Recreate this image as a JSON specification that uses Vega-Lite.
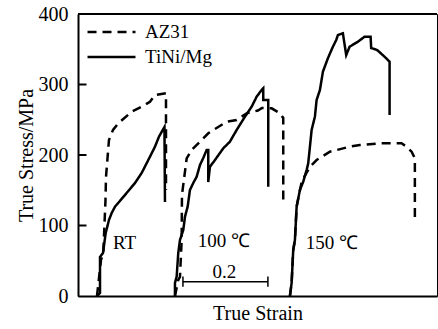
{
  "$schema": "https://vega.github.io/schema/vega-lite/v6.json",
  "width": 359,
  "height": 282,
  "autosize": {"type": "none"},
  "padding": {"left": 78, "top": 14, "right": 1, "bottom": 33},
  "background": "white",
  "config": {
    "view": {"stroke": "black", "strokeWidth": 1},
    "font": "Liberation Serif",
    "axis": {"labelFont": "Liberation Serif", "titleFont": "Liberation Serif", "labelColor": "black", "titleColor": "black", "domainColor": "black", "tickColor": "black", "titleFontWeight": "normal", "grid": false},
    "legend": {"labelFont": "Liberation Serif", "labelColor": "black"},
    "text": {"font": "Liberation Serif"}
  },
  "layer": [
    {
      "data": {"values": [
        {"temp": "RT", "series": "TiNi/Mg", "i": 0, "strain": 0.0447, "stress": 0},
        {"temp": "RT", "series": "TiNi/Mg", "i": 1, "strain": 0.0518, "stress": 4.3},
        {"temp": "RT", "series": "TiNi/Mg", "i": 2, "strain": 0.0518, "stress": 55.3},
        {"temp": "RT", "series": "TiNi/Mg", "i": 3, "strain": 0.0588, "stress": 61},
        {"temp": "RT", "series": "TiNi/Mg", "i": 4, "strain": 0.0652, "stress": 89.4},
        {"temp": "RT", "series": "TiNi/Mg", "i": 5, "strain": 0.0729, "stress": 107.8},
        {"temp": "RT", "series": "TiNi/Mg", "i": 6, "strain": 0.0793, "stress": 117.7},
        {"temp": "RT", "series": "TiNi/Mg", "i": 7, "strain": 0.0871, "stress": 126.7},
        {"temp": "RT", "series": "TiNi/Mg", "i": 8, "strain": 0.1106, "stress": 143.3},
        {"temp": "RT", "series": "TiNi/Mg", "i": 9, "strain": 0.1341, "stress": 160.3},
        {"temp": "RT", "series": "TiNi/Mg", "i": 10, "strain": 0.1499, "stress": 174.5},
        {"temp": "RT", "series": "TiNi/Mg", "i": 11, "strain": 0.1694, "stress": 197.6},
        {"temp": "RT", "series": "TiNi/Mg", "i": 12, "strain": 0.1812, "stress": 211.8},
        {"temp": "RT", "series": "TiNi/Mg", "i": 13, "strain": 0.1906, "stress": 226},
        {"temp": "RT", "series": "TiNi/Mg", "i": 14, "strain": 0.2035, "stress": 239.7},
        {"temp": "RT", "series": "TiNi/Mg", "i": 15, "strain": 0.2047, "stress": 133.3},

        {"temp": "RT", "series": "AZ31", "i": 0, "strain": 0.0447, "stress": 0},
        {"temp": "RT", "series": "AZ31", "i": 1, "strain": 0.0541, "stress": 51},
        {"temp": "RT", "series": "AZ31", "i": 2, "strain": 0.0595, "stress": 61},
        {"temp": "RT", "series": "AZ31", "i": 3, "strain": 0.0647, "stress": 136},
        {"temp": "RT", "series": "AZ31", "i": 4, "strain": 0.0659, "stress": 168.8},
        {"temp": "RT", "series": "AZ31", "i": 5, "strain": 0.0729, "stress": 221.3},
        {"temp": "RT", "series": "AZ31", "i": 6, "strain": 0.0824, "stress": 235.5},
        {"temp": "RT", "series": "AZ31", "i": 7, "strain": 0.0948, "stress": 245},
        {"temp": "RT", "series": "AZ31", "i": 8, "strain": 0.1264, "stress": 261.4},
        {"temp": "RT", "series": "AZ31", "i": 9, "strain": 0.1499, "stress": 268.5},
        {"temp": "RT", "series": "AZ31", "i": 10, "strain": 0.1694, "stress": 275.6},
        {"temp": "RT", "series": "AZ31", "i": 11, "strain": 0.1812, "stress": 285.1},
        {"temp": "RT", "series": "AZ31", "i": 12, "strain": 0.2071, "stress": 287.5},
        {"temp": "RT", "series": "AZ31", "i": 13, "strain": 0.2071, "stress": 150.4},

        {"temp": "100", "series": "TiNi/Mg", "i": 0, "strain": 0.2282, "stress": 0},
        {"temp": "100", "series": "TiNi/Mg", "i": 1, "strain": 0.2282, "stress": 18.4},
        {"temp": "100", "series": "TiNi/Mg", "i": 2, "strain": 0.2322, "stress": 27.4},
        {"temp": "100", "series": "TiNi/Mg", "i": 3, "strain": 0.236, "stress": 61},
        {"temp": "100", "series": "TiNi/Mg", "i": 4, "strain": 0.24, "stress": 79.4},
        {"temp": "100", "series": "TiNi/Mg", "i": 5, "strain": 0.2478, "stress": 93.6},
        {"temp": "100", "series": "TiNi/Mg", "i": 6, "strain": 0.2518, "stress": 112.5},
        {"temp": "100", "series": "TiNi/Mg", "i": 7, "strain": 0.2581, "stress": 126.7},
        {"temp": "100", "series": "TiNi/Mg", "i": 8, "strain": 0.2635, "stress": 150.4},
        {"temp": "100", "series": "TiNi/Mg", "i": 9, "strain": 0.2713, "stress": 160.3},
        {"temp": "100", "series": "TiNi/Mg", "i": 10, "strain": 0.2793, "stress": 169.2},
        {"temp": "100", "series": "TiNi/Mg", "i": 11, "strain": 0.2871, "stress": 185.8},
        {"temp": "100", "series": "TiNi/Mg", "i": 12, "strain": 0.2948, "stress": 195.7},
        {"temp": "100", "series": "TiNi/Mg", "i": 13, "strain": 0.3028, "stress": 207.1},
        {"temp": "100", "series": "TiNi/Mg", "i": 14, "strain": 0.3066, "stress": 207.1},
        {"temp": "100", "series": "TiNi/Mg", "i": 15, "strain": 0.3066, "stress": 161.7},
        {"temp": "100", "series": "TiNi/Mg", "i": 16, "strain": 0.3106, "stress": 183.4},
        {"temp": "100", "series": "TiNi/Mg", "i": 17, "strain": 0.3224, "stress": 192.9},
        {"temp": "100", "series": "TiNi/Mg", "i": 18, "strain": 0.3419, "stress": 209.5},
        {"temp": "100", "series": "TiNi/Mg", "i": 19, "strain": 0.3576, "stress": 218.9},
        {"temp": "100", "series": "TiNi/Mg", "i": 20, "strain": 0.3734, "stress": 235.5},
        {"temp": "100", "series": "TiNi/Mg", "i": 21, "strain": 0.3929, "stress": 254.3},
        {"temp": "100", "series": "TiNi/Mg", "i": 22, "strain": 0.4087, "stress": 268.5},
        {"temp": "100", "series": "TiNi/Mg", "i": 23, "strain": 0.4205, "stress": 282.7},
        {"temp": "100", "series": "TiNi/Mg", "i": 24, "strain": 0.4322, "stress": 292.2},
        {"temp": "100", "series": "TiNi/Mg", "i": 25, "strain": 0.436, "stress": 294.6},
        {"temp": "100", "series": "TiNi/Mg", "i": 26, "strain": 0.436, "stress": 278},
        {"temp": "100", "series": "TiNi/Mg", "i": 27, "strain": 0.4478, "stress": 278},
        {"temp": "100", "series": "TiNi/Mg", "i": 28, "strain": 0.4478, "stress": 155},

        {"temp": "100", "series": "AZ31", "i": 0, "strain": 0.2282, "stress": 0},
        {"temp": "100", "series": "AZ31", "i": 1, "strain": 0.236, "stress": 22.7},
        {"temp": "100", "series": "AZ31", "i": 2, "strain": 0.24, "stress": 27},
        {"temp": "100", "series": "AZ31", "i": 3, "strain": 0.244, "stress": 79.4},
        {"temp": "100", "series": "AZ31", "i": 4, "strain": 0.2447, "stress": 143.3},
        {"temp": "100", "series": "AZ31", "i": 5, "strain": 0.2558, "stress": 195.3},
        {"temp": "100", "series": "AZ31", "i": 6, "strain": 0.2675, "stress": 207.1},
        {"temp": "100", "series": "AZ31", "i": 7, "strain": 0.3066, "stress": 230.8},
        {"temp": "100", "series": "AZ31", "i": 8, "strain": 0.3499, "stress": 247.2},
        {"temp": "100", "series": "AZ31", "i": 9, "strain": 0.3734, "stress": 249.6},
        {"temp": "100", "series": "AZ31", "i": 10, "strain": 0.3969, "stress": 259.1},
        {"temp": "100", "series": "AZ31", "i": 11, "strain": 0.4235, "stress": 263.1},
        {"temp": "100", "series": "AZ31", "i": 12, "strain": 0.433, "stress": 266.7},
        {"temp": "100", "series": "AZ31", "i": 13, "strain": 0.4558, "stress": 266.2},
        {"temp": "100", "series": "AZ31", "i": 14, "strain": 0.4753, "stress": 259.1},
        {"temp": "100", "series": "AZ31", "i": 15, "strain": 0.4831, "stress": 252.5},
        {"temp": "100", "series": "AZ31", "i": 16, "strain": 0.4831, "stress": 133.8},

        {"temp": "150", "series": "TiNi/Mg", "i": 0, "strain": 0.4988, "stress": 0},
        {"temp": "150", "series": "TiNi/Mg", "i": 1, "strain": 0.5028, "stress": 18.4},
        {"temp": "150", "series": "TiNi/Mg", "i": 2, "strain": 0.5066, "stress": 65.2},
        {"temp": "150", "series": "TiNi/Mg", "i": 3, "strain": 0.5106, "stress": 79.4},
        {"temp": "150", "series": "TiNi/Mg", "i": 4, "strain": 0.5146, "stress": 126.7},
        {"temp": "150", "series": "TiNi/Mg", "i": 5, "strain": 0.5224, "stress": 150.4},
        {"temp": "150", "series": "TiNi/Mg", "i": 6, "strain": 0.5301, "stress": 162.1},
        {"temp": "150", "series": "TiNi/Mg", "i": 7, "strain": 0.5381, "stress": 178.7},
        {"temp": "150", "series": "TiNi/Mg", "i": 8, "strain": 0.5419, "stress": 188.2},
        {"temp": "150", "series": "TiNi/Mg", "i": 9, "strain": 0.5459, "stress": 211.8},
        {"temp": "150", "series": "TiNi/Mg", "i": 10, "strain": 0.5499, "stress": 235.5},
        {"temp": "150", "series": "TiNi/Mg", "i": 11, "strain": 0.5576, "stress": 254.3},
        {"temp": "150", "series": "TiNi/Mg", "i": 12, "strain": 0.5616, "stress": 278},
        {"temp": "150", "series": "TiNi/Mg", "i": 13, "strain": 0.5694, "stress": 292.2},
        {"temp": "150", "series": "TiNi/Mg", "i": 14, "strain": 0.5765, "stress": 318.2},
        {"temp": "150", "series": "TiNi/Mg", "i": 15, "strain": 0.5882, "stress": 337.2},
        {"temp": "150", "series": "TiNi/Mg", "i": 16, "strain": 0.6, "stress": 353.6},
        {"temp": "150", "series": "TiNi/Mg", "i": 17, "strain": 0.6078, "stress": 363.1},
        {"temp": "150", "series": "TiNi/Mg", "i": 18, "strain": 0.6118, "stress": 370.2},
        {"temp": "150", "series": "TiNi/Mg", "i": 19, "strain": 0.6235, "stress": 372.6},
        {"temp": "150", "series": "TiNi/Mg", "i": 20, "strain": 0.6313, "stress": 341.8},
        {"temp": "150", "series": "TiNi/Mg", "i": 21, "strain": 0.6393, "stress": 353.6},
        {"temp": "150", "series": "TiNi/Mg", "i": 22, "strain": 0.6588, "stress": 360.7},
        {"temp": "150", "series": "TiNi/Mg", "i": 23, "strain": 0.6746, "stress": 367.8},
        {"temp": "150", "series": "TiNi/Mg", "i": 24, "strain": 0.6887, "stress": 367.8},
        {"temp": "150", "series": "TiNi/Mg", "i": 25, "strain": 0.6901, "stress": 351.8},
        {"temp": "150", "series": "TiNi/Mg", "i": 26, "strain": 0.7042, "stress": 348.9},
        {"temp": "150", "series": "TiNi/Mg", "i": 27, "strain": 0.7216, "stress": 339.4},
        {"temp": "150", "series": "TiNi/Mg", "i": 28, "strain": 0.7334, "stress": 332.3},
        {"temp": "150", "series": "TiNi/Mg", "i": 29, "strain": 0.7334, "stress": 256.7},

        {"temp": "150", "series": "AZ31", "i": 0, "strain": 0.4988, "stress": 0},
        {"temp": "150", "series": "AZ31", "i": 1, "strain": 0.5028, "stress": 18.4},
        {"temp": "150", "series": "AZ31", "i": 2, "strain": 0.5066, "stress": 65.2},
        {"temp": "150", "series": "AZ31", "i": 3, "strain": 0.5106, "stress": 79.4},
        {"temp": "150", "series": "AZ31", "i": 4, "strain": 0.5146, "stress": 126.7},
        {"temp": "150", "series": "AZ31", "i": 5, "strain": 0.5224, "stress": 150.4},
        {"temp": "150", "series": "AZ31", "i": 6, "strain": 0.5271, "stress": 163.1},
        {"temp": "150", "series": "AZ31", "i": 7, "strain": 0.5459, "stress": 183.4},
        {"temp": "150", "series": "AZ31", "i": 8, "strain": 0.5616, "stress": 192.9},
        {"temp": "150", "series": "AZ31", "i": 9, "strain": 0.5929, "stress": 204.7},
        {"temp": "150", "series": "AZ31", "i": 10, "strain": 0.64, "stress": 211.8},
        {"temp": "150", "series": "AZ31", "i": 11, "strain": 0.6635, "stress": 214.2},
        {"temp": "150", "series": "AZ31", "i": 12, "strain": 0.7106, "stress": 216.6},
        {"temp": "150", "series": "AZ31", "i": 13, "strain": 0.7616, "stress": 216.6},
        {"temp": "150", "series": "AZ31", "i": 14, "strain": 0.7734, "stress": 211.8},
        {"temp": "150", "series": "AZ31", "i": 15, "strain": 0.7852, "stress": 204.7},
        {"temp": "150", "series": "AZ31", "i": 16, "strain": 0.7929, "stress": 195.3},
        {"temp": "150", "series": "AZ31", "i": 17, "strain": 0.7929, "stress": 105.4}
      ]},
      "mark": {"type": "line", "color": "black", "strokeWidth": 2.5, "strokeCap": "butt"},
      "encoding": {
        "x": {"field": "strain", "type": "quantitative", "scale": {"domain": [0, 0.845], "nice": false, "zero": false},
          "axis": {"title": "True Strain", "labels": false, "ticks": false, "domainWidth": 2, "titleFont": "Liberation Serif", "titleFontSize": 20, "titleFontWeight": "normal", "titleColor": "black", "titlePadding": 7}},
        "y": {"field": "stress", "type": "quantitative", "scale": {"domain": [0, 400], "nice": false},
          "axis": {"title": "True Stress/MPa", "values": [0, 100, 200, 300, 400], "ticks": false, "labelPadding": 10, "labelFont": "Liberation Serif", "labelFontSize": 20, "labelColor": "black", "labelFlush": false, "domainWidth": 2, "titleFont": "Liberation Serif", "titleFontSize": 20, "titleFontWeight": "normal", "titleColor": "black", "titlePadding": 2}},
        "detail": {"field": "temp"},
        "order": {"field": "i", "type": "quantitative"},
        "strokeDash": {"field": "series", "type": "nominal",
          "scale": {"domain": ["AZ31", "TiNi/Mg"], "range": [[9, 6], [1, 0]]},
          "legend": {"title": null, "orient": "none", "legendX": 8, "legendY": 8, "padding": 0,
            "symbolType": "stroke", "symbolSize": 2300, "symbolStrokeColor": "black", "symbolStrokeWidth": 2.5,
            "clipHeight": 20, "rowPadding": 5, "labelOffset": 8, "labelFont": "Liberation Serif", "labelFontSize": 19, "labelColor": "black"}}
      }
    },
    {
      "data": {"values": [{"tick": 100}, {"tick": 200}, {"tick": 300}]},
      "mark": {"type": "rule", "color": "black", "strokeWidth": 2},
      "encoding": {"x": {"datum": 0}, "x2": {"datum": 0.02}, "y": {"field": "tick", "type": "quantitative"}}
    },
    {
      "data": {"values": [{}]},
      "mark": {"type": "rule", "color": "black", "strokeWidth": 2},
      "encoding": {"y": {"datum": 400}}
    },
    {
      "data": {"values": [{}]},
      "mark": {"type": "rule", "color": "black", "strokeWidth": 1.5},
      "encoding": {"x": {"datum": 0.247}, "x2": {"datum": 0.447}, "y": {"datum": 20.3}}
    },
    {
      "data": {"values": [{}]},
      "mark": {"type": "rule", "color": "black", "strokeWidth": 1.5},
      "encoding": {"x": {"datum": 0.247}, "y": {"datum": 13}, "y2": {"datum": 27.5}}
    },
    {
      "data": {"values": [{}]},
      "mark": {"type": "rule", "color": "black", "strokeWidth": 1.5},
      "encoding": {"x": {"datum": 0.447}, "y": {"datum": 13}, "y2": {"datum": 27.5}}
    },
    {
      "data": {"values": [{}]},
      "mark": {"type": "text", "font": "Liberation Serif", "fontSize": 19, "align": "left", "baseline": "middle", "color": "black"},
      "encoding": {"x": {"datum": 0.0824}, "y": {"datum": 75}, "text": {"value": "RT"}}
    },
    {
      "data": {"values": [{}]},
      "mark": {"type": "text", "font": "Liberation Serif", "fontSize": 19, "align": "left", "baseline": "middle", "color": "black"},
      "encoding": {"x": {"datum": 0.282}, "y": {"datum": 78}, "text": {"value": "100  ℃"}}
    },
    {
      "data": {"values": [{}]},
      "mark": {"type": "text", "font": "Liberation Serif", "fontSize": 19, "align": "center", "baseline": "middle", "color": "black"},
      "encoding": {"x": {"datum": 0.3445}, "y": {"datum": 34}, "text": {"value": "0.2"}}
    },
    {
      "data": {"values": [{}]},
      "mark": {"type": "text", "font": "Liberation Serif", "fontSize": 19, "align": "left", "baseline": "middle", "color": "black"},
      "encoding": {"x": {"datum": 0.536}, "y": {"datum": 75}, "text": {"value": "150  ℃"}}
    }
  ]
}
